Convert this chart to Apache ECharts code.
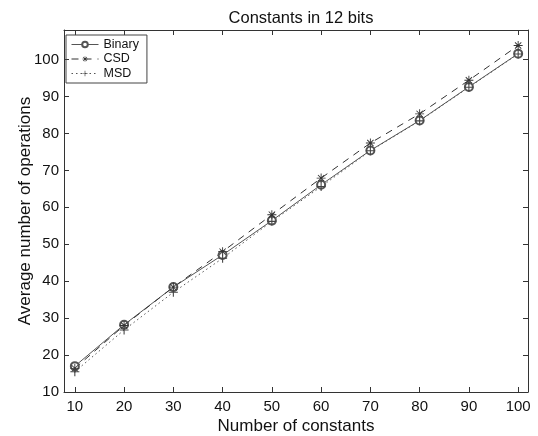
<!DOCTYPE html>
<html>
<head>
<meta charset="utf-8">
<script src="https://cdn.jsdelivr.net/npm/echarts@6/dist/echarts.min.js"></script>
<style>
  html, body { margin: 0; padding: 0; background: #fff; }
  #chart { width: 538px; height: 436px; }
</style>
</head>
<body>
<div id="chart"></div>
<script>
  /** Data */
  var constants = [10, 20, 30, 40, 50, 60, 70, 80, 90, 100];
  var binary = [17.0, 28.2, 38.4, 47.1, 56.4, 66.1, 75.4, 83.5, 92.6, 101.6];
  var csd    = [16.4, 28.0, 38.4, 48.0, 58.0, 67.9, 77.4, 85.3, 94.4, 103.8];
  var msd    = [15.5, 26.8, 37.0, 46.2, 56.2, 65.6, 75.3, 83.4, 92.5, 101.5];
  var xTicks = [10, 20, 30, 40, 50, 60, 70, 80, 90, 100];
  var yTicks = [10, 20, 30, 40, 50, 60, 70, 80, 90, 100];

  function pairs(ys) {
    return constants.map(function(x, i) { return [x, ys[i]]; });
  }

  var font = "'Liberation Sans', Arial, Helvetica, sans-serif";
  var asterisk = 'path://M4.5,0L5.5,0L5.5,10L4.5,10Z M0,4.5L10,4.5L10,5.5L0,5.5Z ' +
    'M1.85,1.15L8.85,8.15L8.15,8.85L1.15,1.85Z M8.85,1.85L1.85,8.85L1.15,8.15L8.15,1.15Z';
  var plus = 'path://M4.4,0L5.6,0L5.6,10L4.4,10Z M0,4.4L10,4.4L10,5.6L0,5.6Z';

  function boxAxis(pos, isX, labelled) {
    var ticks = isX ? xTicks : yTicks;
    return {
      type: 'value',
      position: pos,
      min: isX ? 7.8 : 10,
      max: isX ? 102 : 108,
      name: labelled ? (isX ? 'Number of constants' : 'Average number of operations') : '',
      nameLocation: 'middle',
      nameGap: isX ? 26 : 30,
      nameMoveOverlap: false,
      nameTextStyle: { fontFamily: font, fontSize: 17, color: '#111' },
      axisLine: { show: true, lineStyle: { color: '#333', width: 1 } },
      axisTick: { show: true, inside: true, length: 5, customValues: ticks,
        lineStyle: { color: '#333' } },
      axisLabel: { show: labelled, customValues: ticks, fontFamily: font,
        fontSize: 15, color: '#111', margin: isX ? 7 : 5 },
      splitLine: { show: false }
    };
  }

  var option = {
    backgroundColor: '#fff',
    animation: false,
    title: {
      text: 'Constants in 12 bits',
      left: 296, top: 5, textAlign: 'center',
      textStyle: { fontFamily: font, fontSize: 16.5, fontWeight: 'normal', color: '#111' }
    },
    grid: { left: 64, right: 10, top: 30, bottom: 44, outerBoundsMode: 'none', containLabel: false },
    legend: {
      left: 66, top: 35, orient: 'vertical',
      data: ['Binary', 'CSD', 'MSD'],
      itemWidth: 27, itemHeight: 7, itemGap: 1.5,
      padding: [3, 8, 3, 5],
      borderColor: '#444', borderWidth: 1,
      lineStyle: { width: 1 },
      textStyle: { fontFamily: font, fontSize: 12.5, color: '#111' }
    },
    xAxis: [boxAxis('bottom', true, true), boxAxis('top', true, false)],
    yAxis: [boxAxis('left', false, true), boxAxis('right', false, false)],
    series: [
      {
        name: 'Binary', type: 'line', data: pairs(binary),
        symbol: 'emptyCircle', symbolSize: 8,
        lineStyle: { color: '#555', width: 1, type: 'solid' },
        itemStyle: { color: '#555', borderColor: '#555', borderWidth: 1 }
      },
      {
        name: 'CSD', type: 'line', data: pairs(csd),
        symbol: asterisk, symbolSize: 9,
        lineStyle: { color: '#333', width: 1, type: [7, 6] },
        itemStyle: { color: '#333' }
      },
      {
        name: 'MSD', type: 'line', data: pairs(msd),
        symbol: plus, symbolSize: 9,
        lineStyle: { color: '#555', width: 1, type: [1.5, 3] },
        itemStyle: { color: '#444' }
      }
    ]
  };

  echarts.init(document.getElementById('chart')).setOption(option);
</script>
</body>
</html>
